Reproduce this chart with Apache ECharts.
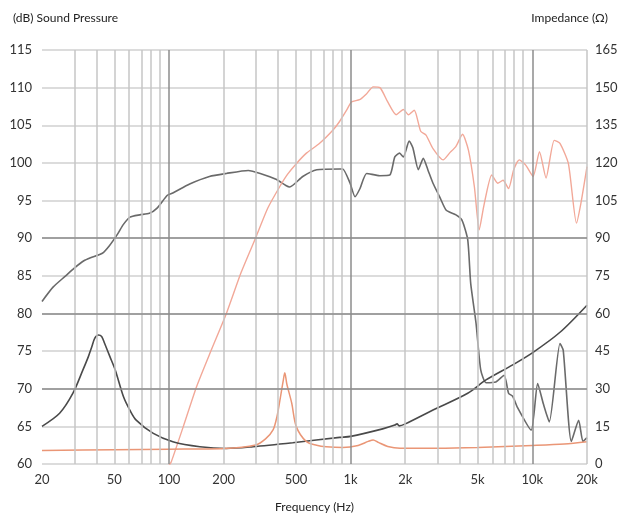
<!DOCTYPE html>
<html>
<head>
<meta charset="utf-8">
<script src="https://cdn.jsdelivr.net/npm/echarts@6/dist/echarts.min.js"></script>
<style>
  html, body { margin: 0; padding: 0; background: #fff; }
  #chart { width: 622px; height: 517px; }
</style>
</head>
<body>
<div id="chart"></div>
<script>
// x labels and grid frequencies
var xLabels = [20, 50, 100, 200, 500, 1000, 2000, 5000, 10000, 20000];
var gridFreqs = [20, 30, 40, 50, 60, 70, 80, 90, 100, 200, 300, 400, 500, 600, 700, 800, 900,
  1000, 2000, 3000, 4000, 5000, 6000, 7000, 8000, 9000, 10000, 20000];
var decadeFreqs = [100, 1000, 10000];
var darkDb = [70, 80, 90];

// sound pressure, gray (dB)
var splGrayFreq = [20, 23, 27, 30, 34, 37, 43, 47, 52, 56, 61, 69, 78, 86, 98, 105, 130, 167, 207, 273,
  318, 391, 440, 462, 545, 651, 870, 905, 993, 1057, 1126, 1225, 1445, 1645, 1750, 1860, 1950, 2100,
  2200, 2358, 2510, 2660, 2840, 3090, 3360, 3800, 4100, 4410, 4580, 4900, 5200, 5560, 6300, 7000,
  7400, 7800, 8250, 9850, 10700, 11500, 12400, 14200, 14800, 16400, 18000, 19000, 20000];
var splGrayDb = [81.6, 83.5, 85.0, 86.0, 87.0, 87.4, 88.0, 89.0, 90.5, 91.8, 92.8, 93.1, 93.3, 94.0,
  95.7, 96.0, 97.2, 98.2, 98.6, 99.0, 98.6, 97.8, 97.0, 96.8, 98.2, 99.1, 99.2, 99.2, 97.3, 95.5,
  96.6, 98.6, 98.3, 98.4, 100.8, 101.3, 100.8, 102.9, 102.0, 99.1, 100.6, 99.1, 97.3, 95.5, 93.7,
  93.1, 92.4, 89.8, 84.0, 78.7, 72.5, 70.8, 70.9, 71.8, 69.4, 69.0, 67.6, 64.5, 70.7, 68.0, 65.6,
  76.0, 75.1, 63.0, 65.8, 63.0, 63.5];

// sound pressure, salmon (dB)
var splPinkFreq = [100, 103, 120, 142, 170, 207, 250, 303, 350, 406, 450, 502, 571, 675, 802, 869,
  950, 1010, 1120, 1225, 1330, 1450, 1600, 1780, 1950, 2080, 2240, 2430, 2600, 2840, 3230, 3500,
  3800, 4130, 4450, 4800, 5100, 5400, 5980, 6450, 6900, 7400, 7900, 8470, 9200, 10100, 10950,
  11900, 13200, 14200, 15800, 17500, 18500, 20000];
var splPinkDb = [59.8, 60.3, 65.0, 70.3, 75.0, 80.0, 85.5, 90.3, 94.0, 96.8, 98.5, 99.9, 101.3,
  102.6, 104.4, 105.5, 107.0, 108.1, 108.4, 109.2, 110.1, 110.0, 108.1, 106.4, 107.1, 106.4, 107.0,
  104.2, 103.7, 101.9, 100.4, 101.3, 102.2, 103.8, 101.7, 96.8, 91.1, 94.2, 98.4, 97.3, 97.7, 96.6,
  99.1, 100.4, 99.7, 98.2, 101.5, 98.0, 103.0, 102.6, 99.9, 92.0, 94.6, 99.5];

// impedance, dark (ohm)
var impDarkFreq = [20, 25, 29.6, 33.6, 36, 37.6, 39, 40.9, 42.6, 44.2, 47.3, 50.6, 56.2, 60.9, 66,
  82, 105, 148, 207, 290, 480, 870, 1000, 1500, 1750, 1800, 1850, 2000, 2840, 4410, 5560, 7800,
  10100, 14200, 20000];
var impDarkOhm = [15, 20.2, 28.2, 37.5, 42.8, 46.7, 50.1, 51.4, 50.8, 48.1, 42.8, 37.5, 26.8, 21.5,
  17.5, 12.2, 8.9, 6.9, 6.2, 6.9, 8.5, 10.6, 11, 14, 15.5, 16, 15.2, 16, 21.5, 28.2, 33.5, 39.5,
  44.5, 52.5, 63.3];

// impedance, salmon (ohm)
var impPinkFreq = [20, 50, 100, 200, 300, 340, 374, 393, 411, 425, 434, 445, 474, 502, 571, 650,
  734, 905, 1100, 1250, 1330, 1420, 1600, 1870, 3000, 5000, 10000, 15000, 20000];
var impPinkOhm = [5.4, 5.7, 5.9, 6.2, 7.6, 10, 13.6, 18.9, 26.8, 33, 36.4, 32, 24.2, 14.9, 8.9,
  7.5, 6.9, 6.6, 7.4, 9, 9.6, 8.6, 7, 6.3, 6.3, 6.6, 7.4, 8, 8.9];

function pairs(fs, vs) {
  return fs.map(function (f, i) { return [Math.log10(f), vs[i]]; });
}
function fmtFreq(v) {
  var f = Math.round(Math.pow(10, v));
  return f >= 1000 ? (f / 1000) + 'k' : String(f);
}

var font = 'Lato, "Open Sans", sans-serif';
var chart = echarts.init(document.getElementById('chart'));

var vLines = gridFreqs.map(function (f) {
  var dec = decadeFreqs.indexOf(f) >= 0;
  return {
    xAxis: Math.log10(f),
    lineStyle: { color: dec ? '#8c8c8c' : '#c6c6c6', width: 1.5, type: 'solid' }
  };
});
var hLines = darkDb.map(function (d) {
  return { yAxis: d, lineStyle: { color: '#8c8c8c', width: 1.5, type: 'solid' } };
});

chart.setOption({
  animation: false,
  textStyle: { fontFamily: font },
  title: [
    { text: '(dB) Sound Pressure', left: 8, top: 7, textStyle: { fontSize: 12, fontWeight: 'normal', color: '#222', fontFamily: font } },
    { text: 'Impedance (Ω)', right: 9, top: 7, textStyle: { fontSize: 12, fontWeight: 'normal', color: '#222', fontFamily: font } }
  ],
  grid: { left: 42, right: 35, top: 50, bottom: 53, containLabel: false, outerBoundsMode: 'none' },
  xAxis: {
    type: 'value',
    min: Math.log10(20),
    max: Math.log10(20000),
    name: 'Frequency (Hz)',
    nameLocation: 'middle',
    nameGap: 37,
    nameTextStyle: { fontSize: 12, color: '#222' },
    axisLine: { show: false },
    axisTick: { show: false },
    splitLine: { show: false },
    axisLabel: {
      customValues: xLabels.map(function (f) { return Math.log10(f); }),
      formatter: fmtFreq,
      fontSize: 13,
      color: '#333',
      margin: 9
    }
  },
  yAxis: [
    {
      type: 'value', min: 60, max: 115, interval: 5,
      axisLine: { show: false }, axisTick: { show: false },
      axisLabel: { fontSize: 13, color: '#333', margin: 10 },
      splitLine: { show: true, lineStyle: { color: '#d0d0d0', width: 1.5 } }
    },
    {
      type: 'value', min: 0, max: 165, interval: 15,
      axisLine: { show: false }, axisTick: { show: false },
      axisLabel: { fontSize: 13, color: '#333', margin: 8 },
      splitLine: { show: false }
    }
  ],
  series: [
    {
      type: 'line', data: [], z: 1, silent: true,
      markLine: { silent: true, symbol: 'none', label: { show: false }, animation: false, data: vLines.concat(hLines) }
    },
    {
      name: 'SPL gray', type: 'line', yAxisIndex: 0, z: 3,
      data: pairs(splGrayFreq, splGrayDb), showSymbol: false, smooth: 0.2,
      lineStyle: { color: '#6a6a6a', width: 1.6 }
    },
    {
      name: 'SPL salmon', type: 'line', yAxisIndex: 0, z: 3,
      data: pairs(splPinkFreq, splPinkDb), showSymbol: false, smooth: 0.2,
      lineStyle: { color: '#f2a898', width: 1.4 }
    },
    {
      name: 'Impedance dark', type: 'line', yAxisIndex: 1, z: 3,
      data: pairs(impDarkFreq, impDarkOhm), showSymbol: false, smooth: 0.3,
      lineStyle: { color: '#4a4a4a', width: 1.6 }
    },
    {
      name: 'Impedance salmon', type: 'line', yAxisIndex: 1, z: 3,
      data: pairs(impPinkFreq, impPinkOhm), showSymbol: false, smooth: 0.3,
      lineStyle: { color: '#ea9676', width: 1.5 }
    }
  ]
});
</script>
</body>
</html>
